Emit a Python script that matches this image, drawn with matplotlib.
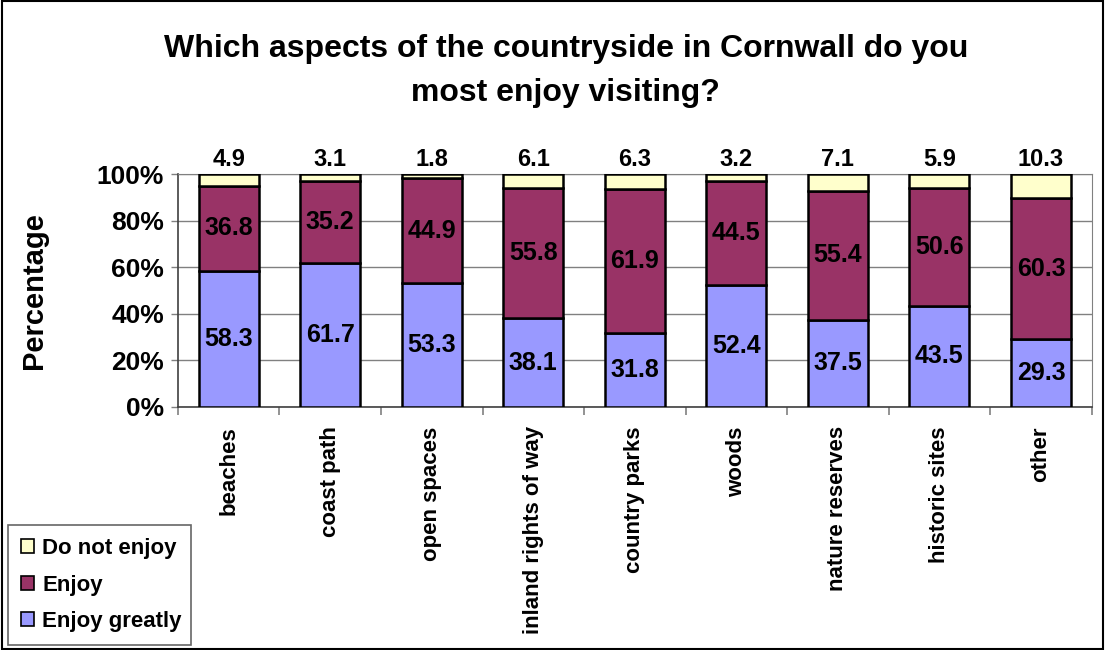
import numpy as np
import matplotlib
matplotlib.use('Agg')
from matplotlib import pyplot as plt
from matplotlib import ticker
from matplotlib.patches import Patch, Rectangle

plt.rcParams['font.family'] = ['Liberation Sans', 'DejaVu Sans']
plt.rcParams['font.weight'] = 'bold'

categories = ['beaches', 'coast path', 'open spaces', 'inland rights of way',
              'country parks', 'woods', 'nature reserves', 'historic sites', 'other']
enjoy_greatly = [58.3, 61.7, 53.3, 38.1, 31.8, 52.4, 37.5, 43.5, 29.3]
enjoy = [36.8, 35.2, 44.9, 55.8, 61.9, 44.5, 55.4, 50.6, 60.3]
not_enjoy = [4.9, 3.1, 1.8, 6.1, 6.3, 3.2, 7.1, 5.9, 10.3]

series_names = ['Enjoy greatly', 'Enjoy', 'Do not enjoy']
series_colors = ['#9999FF', '#993366', '#FFFFCC']

figure = plt.figure(figsize=(11.05, 6.5), dpi=100)
axes1 = figure.add_axes([0.161, 0.374, 0.827, 0.358])

x = np.arange(len(categories))
bottom = np.zeros(len(categories))
series = [enjoy_greatly, enjoy, not_enjoy]
for values, name, color in zip(series, series_names, series_colors):
    values = np.array(values)
    bars = axes1.bar(x, values, 0.59, bottom=bottom, color=color,
                     edgecolor='black', linewidth=1.8, label=name, zorder=3)
    if name != 'Do not enjoy':
        for rect, v in zip(bars, values):
            axes1.text(rect.get_x() + rect.get_width() / 2,
                       rect.get_y() + rect.get_height() / 2, '%.1f' % v,
                       ha='center', va='center', fontsize=18, fontweight='bold')
    else:
        for rect, v in zip(bars, values):
            axes1.text(rect.get_x() + rect.get_width() / 2, 101.5, '%.1f' % v,
                       ha='center', va='bottom', fontsize=17, fontweight='bold')
    bottom += values

axes1.set_xlim(-0.5, len(categories) - 0.5)
axes1.set_ylim(0, 100)
axes1.yaxis.set_major_locator(ticker.MultipleLocator(20))
axes1.yaxis.set_major_formatter(ticker.FormatStrFormatter('%d%%'))
axes1.grid(axis='y', color='#808080', linewidth=1.0, zorder=0)
axes1.tick_params(axis='y', labelsize=19, length=5, color='#808080', width=1, pad=5)
for label in axes1.get_yticklabels():
    label.set_fontweight('bold')

# category ticks sit between bars, labels sit under bar centres
axes1.set_xticks(np.arange(len(categories) + 1) - 0.5)
axes1.set_xticklabels([])
axes1.tick_params(axis='x', which='major', length=6, color='#808080', width=1.2)
axes1.set_xticks(x, minor=True)
axes1.set_xticklabels(categories, minor=True, rotation=90, fontsize=16,
                      fontweight='bold')
axes1.tick_params(axis='x', which='minor', length=0, pad=14)

for side in ['top', 'right']:
    axes1.spines[side].set_color('#808080')
for side in ['left', 'bottom']:
    axes1.spines[side].set_color('#404040')
    axes1.spines[side].set_linewidth(1.2)

axes1.set_ylabel('Percentage', fontsize=21, fontweight='bold')
axes1.yaxis.set_label_coords(-0.142, 0.5)

figure.text(0.512, 0.948, 'Which aspects of the countryside in Cornwall do you\nmost enjoy visiting?',
            ha='center', va='top', fontsize=23, fontweight='bold', linespacing=1.6)

handles = [Patch(facecolor=c, edgecolor='black', linewidth=1.2, label=n)
           for n, c in zip(series_names[::-1], series_colors[::-1])]
legend = figure.legend(handles=handles, loc='lower left',
                       bbox_to_anchor=(0.007, 0.007, 0.166, 0.19), mode='expand',
                       fontsize=16, frameon=True, fancybox=False,
                       handlelength=0.6, handleheight=0.6, handletextpad=0.35,
                       labelspacing=0.7, borderpad=0.6, borderaxespad=0)
legend.get_frame().set_edgecolor('#404040')
legend.get_frame().set_linewidth(1.2)
for text in legend.get_texts():
    text.set_fontweight('bold')

figure.patches.append(Rectangle((0.002, 0.002), 0.996, 0.996, transform=figure.transFigure,
                                fill=False, edgecolor='black', linewidth=1.5))

figure.savefig('out.png', dpi=100)
plt.close()
